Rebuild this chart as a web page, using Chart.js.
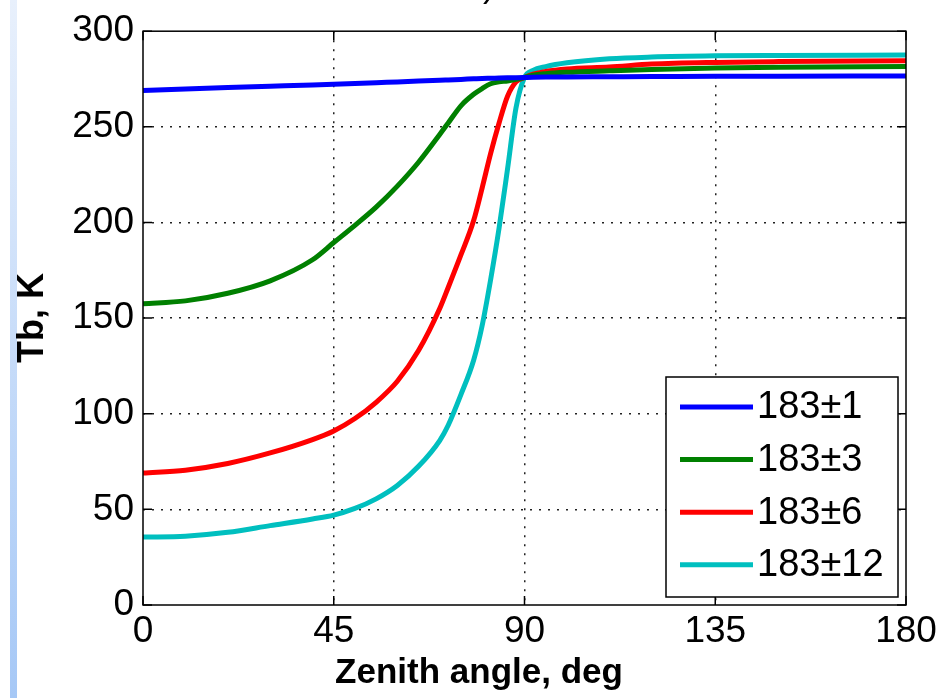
<!DOCTYPE html>
<html>
<head>
<meta charset="utf-8">
<script src="https://cdn.jsdelivr.net/npm/chart.js@4.4.1/dist/chart.umd.min.js"></script>
<style>
html,body{margin:0;padding:0;background:#fff;overflow:hidden}
#wrap{position:relative;width:942px;height:698px}
#strip{position:absolute;left:10px;top:0;width:7px;height:698px;background:linear-gradient(#e8f0fc,#a6c8f6)}
canvas{position:absolute;left:0;top:0}
</style>
</head>
<body>
<div id="wrap"><div id="strip"></div><canvas id="c" width="942" height="698"></canvas></div>
<script>
// zenith angle, deg
const angles = [0,10,20,30,40,45,50,55,60,65,70,72,75,78,80,82,84,86,88,90,92,95,100,110,120,135,150,180];
// brightness temperature, K
const tb1  = [269,269.8,270.5,271.2,271.9,272.3,272.7,273.1,273.5,273.9,274.3,274.5,274.8,275.1,275.3,275.4,275.5,275.6,275.7,275.8,275.9,276,276.1,276.2,276.3,276.4,276.5,276.6];
const tb3  = [157.5,159,163,169.5,180.5,189.5,198.5,208,219,231.5,246,252,261,267,270,272.5,273.5,274,274.8,275.8,277,277.8,278.5,279.3,280,280.7,281.2,281.5];
const tb6  = [69,70.5,74,79.5,86.5,91,97.5,106,117,133,155,166,183,201,218,236,252,266,273.5,275.8,277.5,279,280.3,281.3,282.8,283.7,284.1,284.5];
const tb12 = [35.5,36,38,41.5,45,47,50.5,55.5,62.5,72.5,86,94,110,128,146,170,197,228,260,275.8,279.5,281.5,283.5,285.6,286.5,287.1,287.3,287.5];
const labels = ['183\u00b11','183\u00b13','183\u00b16','183\u00b112'];
const colors = ['#0000ff','#008000','#ff0000','#00bfbf'];
const xTicks = [0,45,90,135,180];
const yTicks = [0,50,100,150,200,250,300];

const FONT = '"Liberation Sans", Arial, Helvetica, sans-serif';

function pts(ys){ return angles.map((a,i)=>({x:a,y:ys[i]})); }

const frame = {
  id:'frame',
  afterDatasetsDraw(chart){
    const {ctx, chartArea:a, scales:{x,y}} = chart;
    ctx.save();
    ctx.strokeStyle = '#000'; ctx.lineWidth = 1.5;
    ctx.strokeRect(a.left, a.top, a.right-a.left, a.bottom-a.top);
    ctx.beginPath();
    xTicks.forEach(v=>{const px=x.getPixelForValue(v); ctx.moveTo(px,a.bottom); ctx.lineTo(px,a.bottom-9); ctx.moveTo(px,a.top); ctx.lineTo(px,a.top+9);});
    yTicks.forEach(v=>{const py=y.getPixelForValue(v); ctx.moveTo(a.left,py); ctx.lineTo(a.left+9,py); ctx.moveTo(a.right,py); ctx.lineTo(a.right-9,py);});
    ctx.stroke();
    ctx.restore();
  },
  afterDraw(chart){
    const {ctx} = chart;
    ctx.save();
    // legend box
    const bx=666, by=377, bw=232, bh=220;
    ctx.fillStyle='#fff'; ctx.fillRect(bx,by,bw,bh);
    ctx.strokeStyle='#000'; ctx.lineWidth=1.5; ctx.strokeRect(bx,by,bw,bh);
    ctx.font = '38px '+FONT; ctx.textBaseline='middle'; ctx.textAlign='left';
    chart.data.datasets.forEach((ds,i)=>{
      const ly = 407 + i*52.6;
      ctx.strokeStyle = ds.borderColor; ctx.lineWidth = 5;
      ctx.beginPath(); ctx.moveTo(680,ly); ctx.lineTo(753,ly); ctx.stroke();
      ctx.fillStyle='#000'; ctx.fillText(ds.label, 757, ly+1);
    });
    // x axis title
    ctx.font = 'bold 35px '+FONT; ctx.textAlign='center';
    ctx.fillText('Zenith angle, deg', 479, 673);
    // clipped title fragment at the top edge
    ctx.font = '36px '+FONT; ctx.textBaseline='alphabetic';
    ctx.fillText(')', 489, -4);
    ctx.restore();
  }
};

new Chart(document.getElementById('c'), {
  type:'line',
  data:{
    datasets:[tb1,tb3,tb6,tb12].map((d,i)=>({
      label:labels[i], data:pts(d), borderColor:colors[i], backgroundColor:colors[i],
      borderWidth:5, pointRadius:0, fill:false, cubicInterpolationMode:'monotone'
    }))
  },
  options:{
    responsive:false, animation:false, devicePixelRatio:1,
    layout:{padding:{top:29,right:36,left:0,bottom:0}},
    plugins:{legend:{display:false}, tooltip:{enabled:false}},
    scales:{
      x:{
        type:'linear', min:0, max:180,
        afterBuildTicks:s=>{s.ticks = xTicks.map(v=>({value:v}));},
        afterFit:s=>{s.height = 93;},
        ticks:{color:'#000', padding:5, font:{family:FONT, size:37}, maxRotation:0},
        grid:{drawTicks:false, lineWidth:1.5, color:c=>(c.tick && (c.tick.value===0||c.tick.value===180))?'rgba(0,0,0,0)':'#222'},
        border:{display:false, dash:[2,7]}
      },
      y:{
        min:0, max:300,
        afterBuildTicks:s=>{s.ticks = yTicks.map(v=>({value:v}));},
        afterFit:s=>{s.width = 143;},
        ticks:{color:'#000', padding:9, font:{family:FONT, size:37}},
        grid:{drawTicks:false, lineWidth:1.5, color:c=>(c.tick && (c.tick.value===0||c.tick.value===300))?'rgba(0,0,0,0)':'#222'},
        border:{display:false, dash:[2,7]},
        title:{display:true, text:'Tb, K', color:'#000', padding:{top:11,bottom:0}, font:{family:FONT, size:36, weight:'bold'}}
      }
    }
  },
  plugins:[frame]
});
</script>
</body>
</html>
